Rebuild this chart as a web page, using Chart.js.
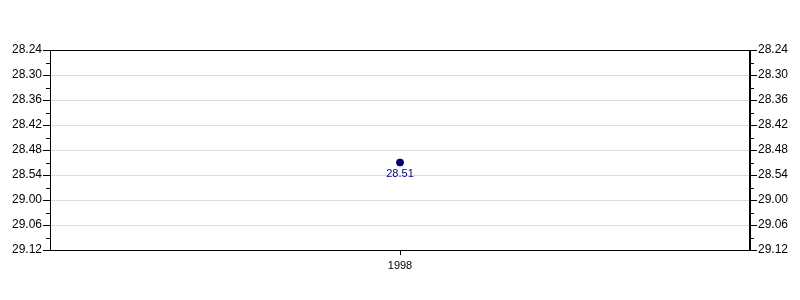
<!DOCTYPE html>
<html>
<head>
<meta charset="utf-8">
<script src="https://cdn.jsdelivr.net/npm/chart.js@4/dist/chart.umd.min.js"></script>
<style>
  html, body { margin: 0; padding: 0; background: #fff; }
  #wrap { width: 800px; height: 300px; }
</style>
</head>
<body>
<div id="wrap"><canvas id="c"></canvas></div>
<script>
// data (times written as min.sec)
var years = ['1998']
var times = ['28.51']
var axisMin = '28.24', axisMax = '29.12'
var stepSec = 6

function toSec(s){ var p = s.split('.'); return (+p[0]) * 60 + (+p[1]) }
function fmt(v){ var m = Math.floor(v / 60), s = Math.round(v - m * 60); return m + '.' + (s < 10 ? '0' : '') + s }

var font = { family: 'Liberation Sans, Arial, sans-serif', size: 11 }
var yFont = { family: 'Liberation Sans, Arial, sans-serif', size: 12 }

function yAxis(pos){
  return {
    position: pos,
    reverse: true,
    min: toSec(axisMin),
    max: toSec(axisMax),
    afterFit: function(s){ s.width = 50 },
    ticks: { stepSize: stepSec, color: '#000', font: yFont, padding: 1, callback: function(v){ return fmt(v) } },
    grid: { color: '#dddddd', drawOnChartArea: pos == 'left', tickColor: '#000', tickLength: 7 },
    border: { display: true, color: '#000' }
  }
}

// minor ticks, plot frame and point labels
var extras = {
  id: 'extras',
  afterDraw: function(chart){
    var ctx = chart.ctx, a = chart.chartArea
    ctx.save()
    ctx.strokeStyle = '#000'
    ctx.lineWidth = 1
    ctx.strokeRect(a.left + 0.5, a.top + 0.5, a.right - a.left - 1, a.bottom - a.top)
    ;['y', 'y2'].forEach(function(id){
      var sc = chart.scales[id]
      for (var v = sc.min + stepSec / 2; v < sc.max; v += stepSec) {
        var py = Math.round(sc.getPixelForValue(v)) + 0.5
        ctx.beginPath()
        if (id == 'y') { ctx.moveTo(a.left, py); ctx.lineTo(a.left - 4, py) }
        else { ctx.moveTo(a.right, py); ctx.lineTo(a.right + 4, py) }
        ctx.stroke()
      }
    })
    var meta = chart.getDatasetMeta(0)
    ctx.fillStyle = '#000080'
    ctx.font = '11px Liberation Sans, Arial, sans-serif'
    ctx.textAlign = 'center'
    ctx.textBaseline = 'top'
    meta.data.forEach(function(pt, i){
      ctx.fillText(times[i], pt.x, pt.y + 6)
    })
    ctx.restore()
  }
}

new Chart(document.getElementById('c'), {
  type: 'line',
  data: {
    labels: years,
    datasets: [{
      data: times.map(toSec),
      borderColor: '#000080',
      backgroundColor: '#000080',
      pointBackgroundColor: '#000080',
      pointBorderColor: '#000033',
      pointRadius: 3.5,
      pointBorderWidth: 1,
      showLine: false
    }]
  },
  options: {
    responsive: true,
    maintainAspectRatio: false,
    animation: false,
    layout: { padding: { top: 50, bottom: 20, left: 0, right: 0 } },
    plugins: { legend: { display: false }, tooltip: { enabled: false } },
    scales: {
      x: {
        offset: true,
        afterFit: function(s){ s.height = 30 },
        ticks: { color: '#000', font: font, padding: 4 },
        grid: { drawOnChartArea: false, tickColor: '#000', tickLength: 5, offset: false },
        border: { display: true, color: '#000' }
      },
      y: yAxis('left'),
      y2: yAxis('right')
    }
  },
  plugins: [extras]
})
</script>
</body>
</html>
